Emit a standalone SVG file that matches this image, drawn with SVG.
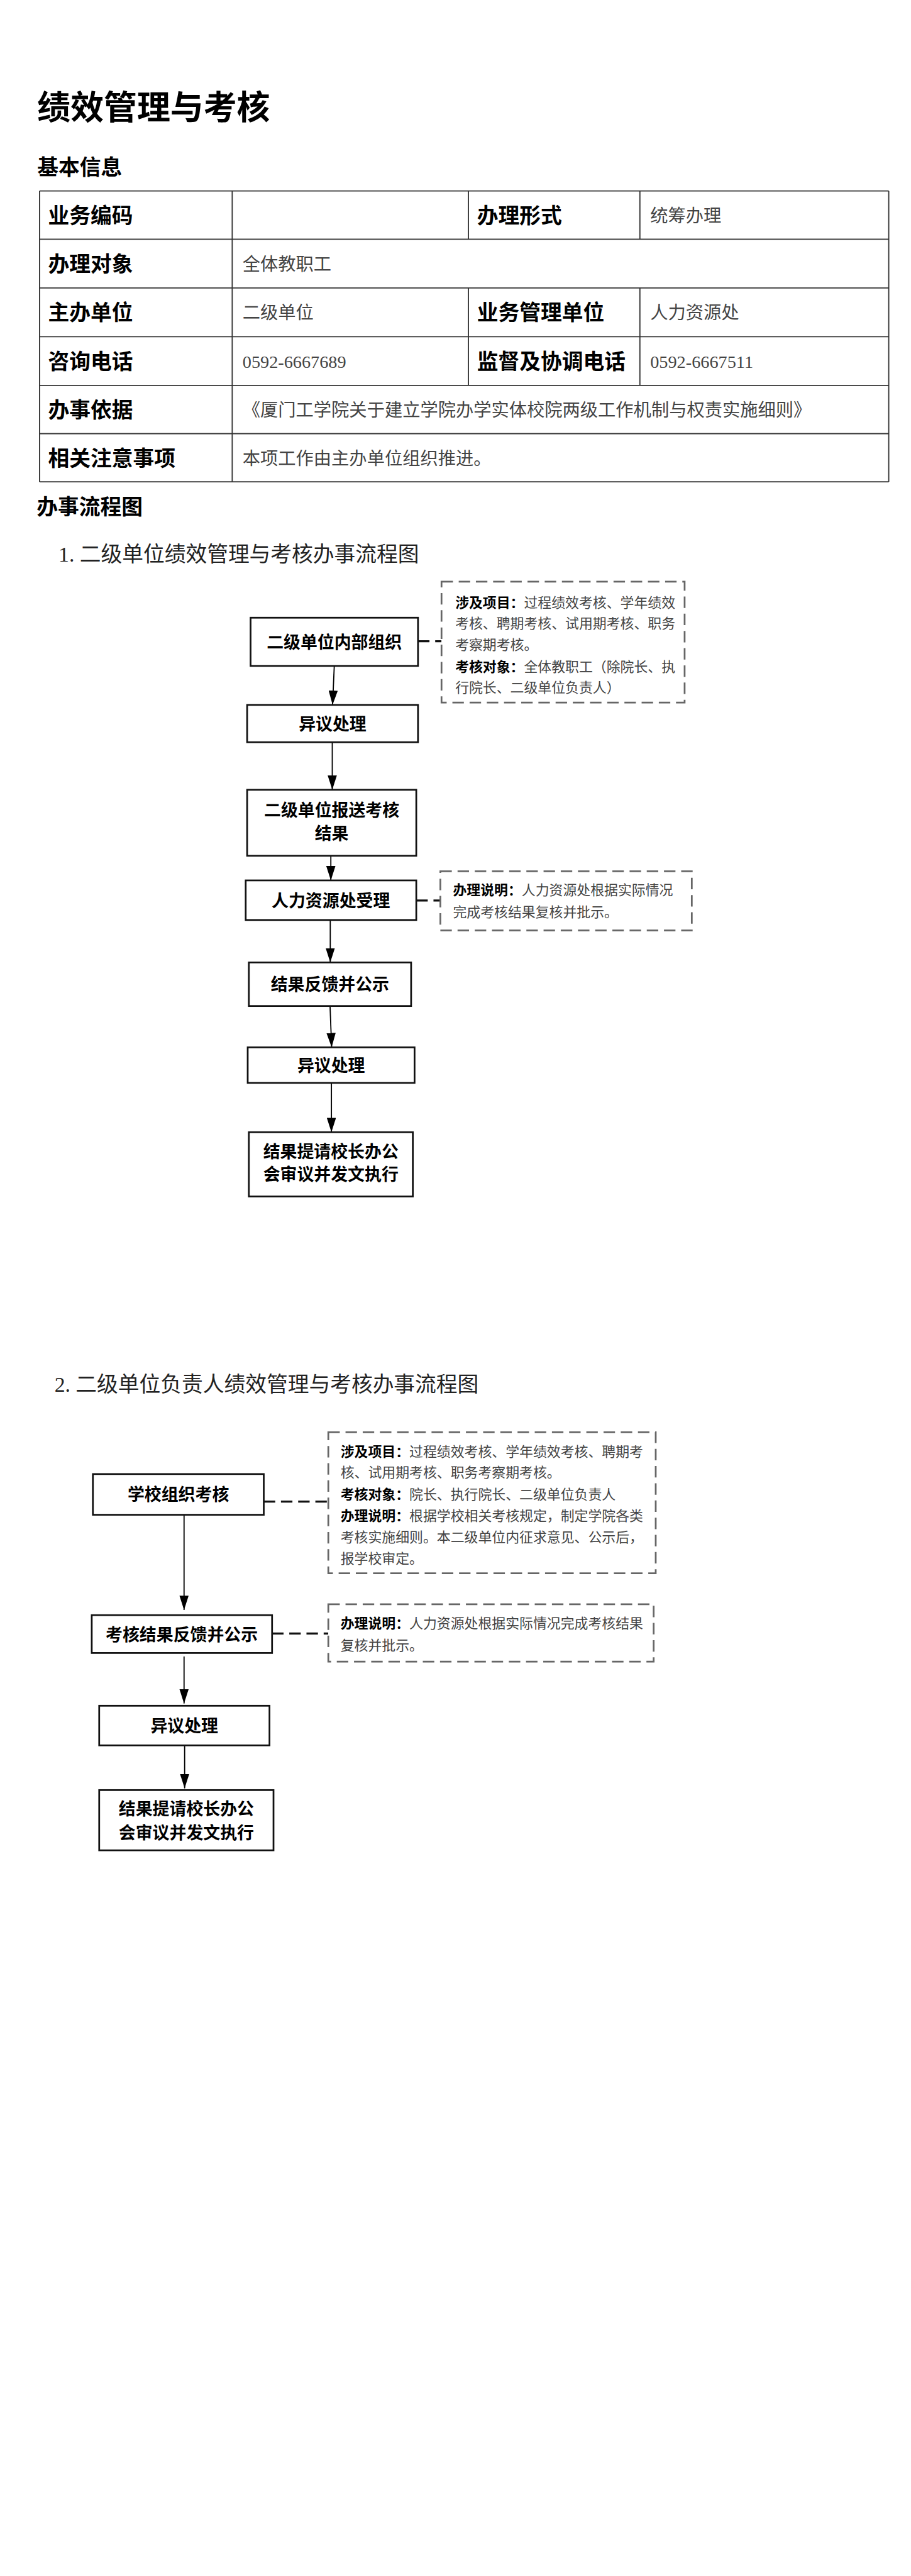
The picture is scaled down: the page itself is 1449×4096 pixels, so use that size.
<svg xmlns="http://www.w3.org/2000/svg" width="1449" height="4096" viewBox="0 0 1449 4096">
<style>
.bold{font-family:"Noto Sans CJK SC","Noto Sans",sans-serif;font-weight:700;fill:#000}
.reg{font-family:"Liberation Serif","Noto Sans CJK SC",serif;font-weight:400;fill:#222}
.val{font-family:"Liberation Serif","Noto Sans CJK SC",serif;font-size:31px;fill:#444}
.lbl{font-family:"Noto Sans CJK SC",sans-serif;font-weight:700;font-size:37px;fill:#000}
.ntxt{font-family:"Noto Sans CJK SC",sans-serif;font-size:24px;fill:#444}
.ntxt .b{font-weight:700;fill:#000}
.node rect{fill:#fff;stroke:#111;stroke-width:3}
.node text{font-family:"Noto Sans CJK SC",sans-serif;font-weight:700;font-size:29.5px;fill:#000;text-anchor:middle}
.note rect{fill:#fff;stroke:#666;stroke-width:3;stroke-dasharray:20 10}
.grid line{stroke:#333;stroke-width:2}
.arrow{stroke:#000;stroke-width:2;fill:none;marker-end:url(#arr)}
.dash{stroke:#111;stroke-width:3.5;fill:none;stroke-dasharray:20 10}
</style>
<defs>
<marker id="arr" viewBox="0 0 25 16" refX="25" refY="8" markerWidth="25" markerHeight="16" orient="auto" markerUnits="userSpaceOnUse"><path d="M0,0 L25,8 L0,16 z" fill="#000"/></marker>
</defs>
<rect width="1449" height="4096" fill="#fff"/>
<g transform="scale(0.912)">
<!-- headings -->
<text class="bold" x="65" y="208" font-size="58">绩效管理与考核</text>
<text class="bold" x="65" y="305" font-size="37">基本信息</text>
<text class="bold" x="64" y="896.5" font-size="37">办事流程图</text>
<text class="reg" x="102" y="979" font-size="37">1. 二级单位绩效管理与考核办事流程图</text>
<text class="reg" x="95" y="2427" font-size="37">2. 二级单位负责人绩效管理与考核办事流程图</text>

<!-- table -->
<g id="table" class="grid">
<line x1="69" y1="333" x2="1550" y2="333"/>
<line x1="69" y1="417" x2="1550" y2="417"/>
<line x1="69" y1="502" x2="1550" y2="502"/>
<line x1="69" y1="587" x2="1550" y2="587"/>
<line x1="69" y1="672" x2="1550" y2="672"/>
<line x1="69" y1="756" x2="1550" y2="756"/>
<line x1="69" y1="840" x2="1550" y2="840"/>
<line x1="69" y1="333" x2="69" y2="840"/>
<line x1="405" y1="333" x2="405" y2="840"/>
<line x1="1550" y1="333" x2="1550" y2="840"/>
<line x1="817" y1="333" x2="817" y2="417"/>
<line x1="1116" y1="333" x2="1116" y2="417"/>
<line x1="817" y1="502" x2="817" y2="672"/>
<line x1="1116" y1="502" x2="1116" y2="672"/>
</g>
<g id="table-text">
<text class="lbl" x="84" y="389">业务编码</text>
<text class="lbl" x="832" y="389">办理形式</text>
<text class="val" x="1134" y="386.8">统筹办理</text>
<text class="lbl" x="84" y="473.5">办理对象</text>
<text class="val" x="423" y="471.3">全体教职工</text>
<text class="lbl" x="84" y="558.5">主办单位</text>
<text class="val" x="423" y="556.3">二级单位</text>
<text class="lbl" x="832" y="558.5">业务管理单位</text>
<text class="val" x="1134" y="556.3">人力资源处</text>
<text class="lbl" x="84" y="643.5">咨询电话</text>
<text class="val" x="423" y="641.3">0592-6667689</text>
<text class="lbl" x="832" y="643.5">监督及协调电话</text>
<text class="val" x="1134" y="641.3">0592-6667511</text>
<text class="lbl" x="84" y="728">办事依据</text>
<text class="val" x="423" y="725.8">《厦门工学院关于建立学院办学实体校院两级工作机制与权责实施细则》</text>
<text class="lbl" x="84" y="812">相关注意事项</text>
<text class="val" x="423" y="809.8">本项工作由主办单位组织推进。</text>
</g>

<!-- connectors -->
<g id="connectors">
<line class="arrow" x1="583" y1="1161" x2="580" y2="1229"/>
<line class="arrow" x1="579.5" y1="1294" x2="579.5" y2="1377"/>
<line class="arrow" x1="577" y1="1492" x2="577" y2="1535"/>
<line class="arrow" x1="576" y1="1604" x2="576" y2="1678"/>
<line class="arrow" x1="575.6" y1="1754" x2="578.4" y2="1826"/>
<line class="arrow" x1="578" y1="1888" x2="578" y2="1974"/>
<line class="dash" x1="729" y1="1118" x2="770" y2="1118"/>
<line class="dash" x1="726" y1="1570" x2="768" y2="1570"/>
<line class="arrow" x1="321" y1="2641" x2="321" y2="2807"/>
<line class="arrow" x1="321" y1="2888" x2="321" y2="2970"/>
<line class="arrow" x1="322" y1="3044" x2="322" y2="3118"/>
<line class="dash" x1="460" y1="2618" x2="572.6" y2="2618"/>
<line class="dash" x1="474.5" y1="2848" x2="572.6" y2="2848"/>
</g>

<!-- flowchart 1 nodes -->
<g id="f1n1" class="node"><rect x="437" y="1077" width="292" height="84"/><text x="583" y="1130.2">二级单位内部组织</text></g>
<g id="f1n2" class="node"><rect x="431" y="1229" width="298" height="65"/><text x="580" y="1272.7">异议处理</text></g>
<g id="f1n3" class="node"><rect x="431" y="1377" width="295" height="115"/><text x="578.5" y="1423.2">二级单位报送考核</text><text x="578.5" y="1464.2">结果</text></g>
<g id="f1n4" class="node"><rect x="428.5" y="1535" width="297.5" height="69"/><text x="577" y="1580.7">人力资源处受理</text></g>
<g id="f1n5" class="node"><rect x="434" y="1678" width="283" height="76"/><text x="575.5" y="1727.2">结果反馈并公示</text></g>
<g id="f1n6" class="node"><rect x="432" y="1826" width="291" height="62"/><text x="577.5" y="1868.2">异议处理</text></g>
<g id="f1n7" class="node"><rect x="434" y="1974" width="286" height="112"/><text x="577" y="2018.2">结果提请校长办公</text><text x="577" y="2058.2">会审议并发文执行</text></g>

<g id="f1note1" class="note"><rect x="770" y="1014" width="424" height="211"/>
<text class="ntxt" x="794" y="1059.1"><tspan class="b">涉及项目：</tspan>过程绩效考核、学年绩效</text>
<text class="ntxt" x="794" y="1095.8">考核、聘期考核、试用期考核、职务</text>
<text class="ntxt" x="794" y="1132.4">考察期考核。</text>
<text class="ntxt" x="794" y="1170.8"><tspan class="b">考核对象：</tspan>全体教职工（除院长、执</text>
<text class="ntxt" x="794" y="1207.4">行院长、二级单位负责人）</text>
</g>
<g id="f1note2" class="note"><rect x="768" y="1519" width="438.5" height="103"/>
<text class="ntxt" x="790" y="1560.8"><tspan class="b">办理说明：</tspan>人力资源处根据实际情况</text>
<text class="ntxt" x="790" y="1599.1">完成考核结果复核并批示。</text>
</g>

<!-- flowchart 2 nodes -->
<g id="f2n1" class="node"><rect x="162" y="2570" width="298" height="71"/><text x="311" y="2616.7">学校组织考核</text></g>
<g id="f2n2" class="node"><rect x="160" y="2816" width="314.5" height="66"/><text x="317" y="2860.2">考核结果反馈并公示</text></g>
<g id="f2n3" class="node"><rect x="173" y="2974" width="297" height="69"/><text x="321.5" y="3019.7">异议处理</text></g>
<g id="f2n4" class="node"><rect x="173" y="3121" width="304" height="105"/><text x="325" y="3164.5">结果提请校长办公</text><text x="325" y="3206.2">会审议并发文执行</text></g>

<g id="f2note1" class="note"><rect x="572.6" y="2497" width="571" height="246"/>
<text class="ntxt" x="594" y="2539.1"><tspan class="b">涉及项目：</tspan>过程绩效考核、学年绩效考核、聘期考</text>
<text class="ntxt" x="594" y="2575.8">核、试用期考核、职务考察期考核。</text>
<text class="ntxt" x="594" y="2614.1"><tspan class="b">考核对象：</tspan>院长、执行院长、二级单位负责人</text>
<text class="ntxt" x="594" y="2650.8"><tspan class="b">办理说明：</tspan>根据学校相关考核规定，制定学院各类</text>
<text class="ntxt" x="594" y="2689.1">考核实施细则。本二级单位内征求意见、公示后，</text>
<text class="ntxt" x="594" y="2725.8">报学校审定。</text>
</g>
<g id="f2note2" class="note"><rect x="572.6" y="2797" width="567.4" height="100"/>
<text class="ntxt" x="594" y="2839.1"><tspan class="b">办理说明：</tspan>人力资源处根据实际情况完成考核结果</text>
<text class="ntxt" x="594" y="2877.1">复核并批示。</text>
</g>
</g>
</svg>
